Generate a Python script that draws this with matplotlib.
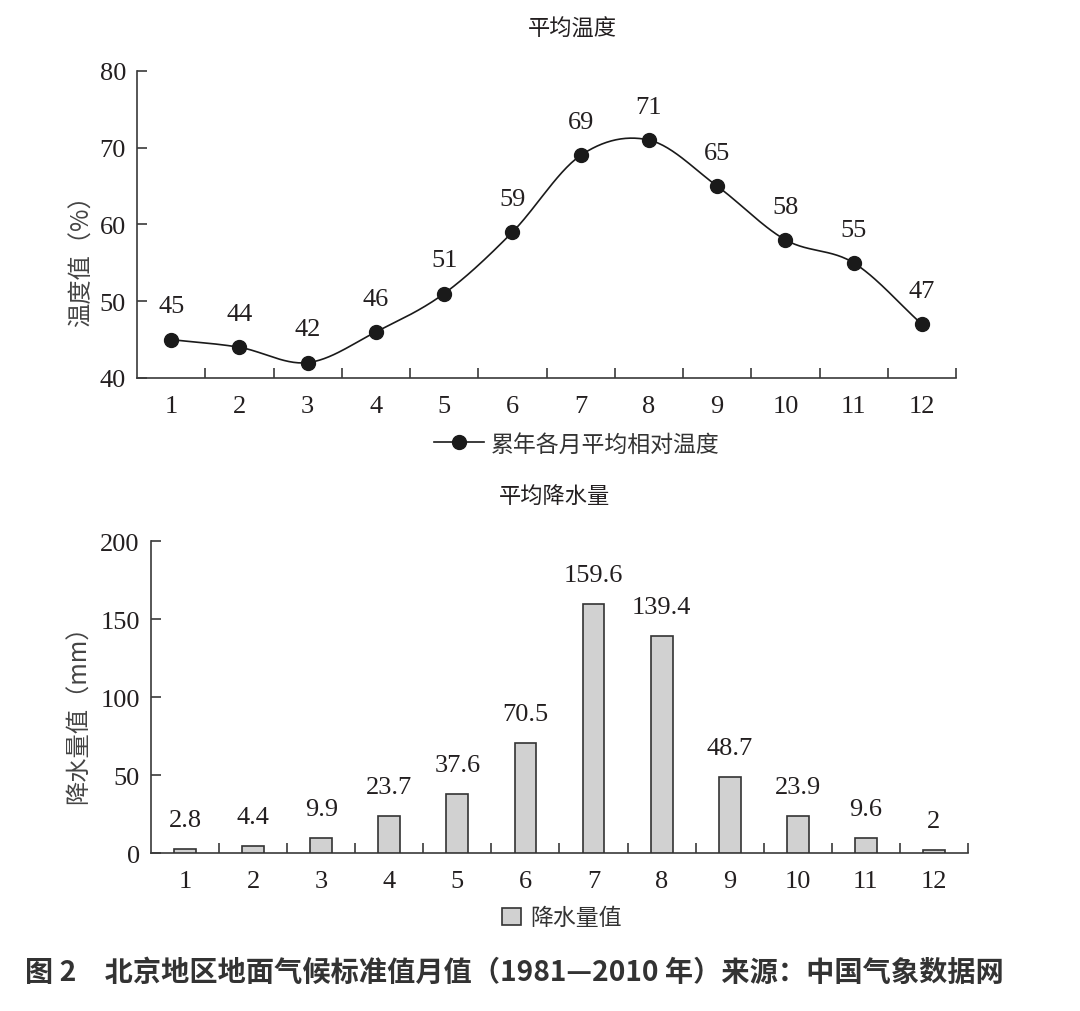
import numpy as np
import matplotlib
matplotlib.use("Agg")
import matplotlib.pyplot as plt
from matplotlib.lines import Line2D
from matplotlib.patches import Patch

months = [1, 2, 3, 4, 5, 6, 7, 8, 9, 10, 11, 12]
temp = [45, 44, 42, 46, 51, 59, 69, 71, 65, 58, 55, 47]
rain = [2.8, 4.4, 9.9, 23.7, 37.6, 70.5, 159.6, 139.4, 48.7, 23.9, 9.6, 2]
rain_labels = ["2.8", "4.4", "9.9", "23.7", "37.6", "70.5", "159.6", "139.4", "48.7", "23.9", "9.6", "2"]
temp_title = "平均温度"
rain_title = "平均降水量"
temp_ylabel = "温度值（%）"
rain_ylabel = "降水量值（mm）"
temp_legend = "累年各月平均相对温度"
rain_legend = "降水量值"
caption = "图 2　北京地区地面气候标准值月值（1981—2010 年）来源：中国气象数据网"

SERIF = ["Liberation Serif", "DejaVu Serif"]
CJK = ["Noto Sans CJK SC", "DejaVu Sans"]
TXT = "#231f20"
NUMSIZE = 19
plt.rcParams["font.family"] = CJK


def smooth(xs, ys, n=30):
    # Catmull-Rom style smoothing (like spreadsheet smoothed lines)
    xs = np.asarray(xs, float)
    ys = np.asarray(ys, float)
    px = np.concatenate([[2 * xs[0] - xs[1]], xs, [2 * xs[-1] - xs[-2]]])
    py = np.concatenate([[2 * ys[0] - ys[1]], ys, [2 * ys[-1] - ys[-2]]])
    outx, outy = [], []
    t = np.linspace(0, 1, n)
    for i in range(1, len(px) - 2):
        p0, p1, p2, p3 = [np.array([px[j], py[j]]) for j in (i - 1, i, i + 1, i + 2)]
        c1 = p1 + (p2 - p0) / 6
        c2 = p2 - (p3 - p1) / 6
        b = ((1 - t) ** 3)[:, None] * p1 + (3 * (1 - t) ** 2 * t)[:, None] * c1 \
            + (3 * (1 - t) * t ** 2)[:, None] * c2 + (t ** 3)[:, None] * p2
        outx.extend(b[:, 0])
        outy.extend(b[:, 1])
    return np.array(outx), np.array(outy)


fig = plt.figure(figsize=(10.8, 10.12), dpi=100)
fig.patch.set_facecolor("white")


def style_axes(ax, ymin, ymax, ystep):
    ax.set_xlim(0.5, 12.5)
    ax.set_ylim(ymin, ymax)
    ax.spines["top"].set_visible(False)
    ax.spines["right"].set_visible(False)
    for s in ("left", "bottom"):
        ax.spines[s].set_color("#3a3a3a")
        ax.spines[s].set_linewidth(1.2)
    ax.set_yticks(np.arange(ymin, ymax + ystep / 2, ystep))
    ax.set_xticks(months)
    ax.set_xticklabels([str(m) for m in months])
    ax.set_xticks(np.arange(1.5, 13, 1), minor=True)
    ax.tick_params(axis="x", which="major", length=0, pad=12)
    ax.tick_params(axis="x", which="minor", direction="in", length=7, width=1.2, color="#3a3a3a")
    ax.tick_params(axis="y", direction="in", length=7, width=1.2, color="#3a3a3a", pad=8)
    for lab in ax.get_xticklabels() + ax.get_yticklabels():
        lab.set_fontfamily(SERIF)
        lab.set_fontsize(NUMSIZE)
        lab.set_color(TXT)


# ---- top: temperature ----
ax1 = fig.add_axes([0.1269, 0.6255, 0.7583, 0.3034])
style_axes(ax1, 40, 80, 10)
sx, sy = smooth(months, temp)
ax1.plot(sx, sy, color="#1a1a1a", lw=1.2)
ax1.plot(months, temp, "o", color="#1a1a1a", ms=10, lw=0)
for m, v in zip(months, temp):
    ax1.annotate(str(v), (m, v), xytext=(0, 16), textcoords="offset points",
                 ha="center", va="bottom", fontfamily=SERIF, fontsize=NUMSIZE, color=TXT)
ax1.set_ylabel(temp_ylabel, fontsize=17.5, color="#444444")
ax1.yaxis.set_label_coords(-0.052, 0.404)
ax1.set_title(temp_title, fontsize=16, color=TXT, pad=26, x=0.531)
h1 = Line2D([], [], color="#1a1a1a", lw=1.2, marker="o", ms=10)
ax1.legend([h1], [temp_legend], loc="upper center", bbox_to_anchor=(0.537, -0.11),
           frameon=False, fontsize=16.5, handlelength=2.2, handletextpad=0.3,
           labelcolor="#333333")

# ---- bottom: rainfall ----
ax2 = fig.add_axes([0.1398, 0.1561, 0.7565, 0.3083])
style_axes(ax2, 0, 200, 50)
ax2.bar(months, rain, width=0.32, color="#d1d1d1", edgecolor="#333333", linewidth=1.2, zorder=3)
for m, v, l in zip(months, rain, rain_labels):
    ax2.annotate(l, (m, v), xytext=(0, 13), textcoords="offset points",
                 ha="center", va="bottom", fontfamily=SERIF, fontsize=NUMSIZE, color=TXT)
ax2.set_ylabel(rain_ylabel, fontsize=17.5, color="#444444")
ax2.yaxis.set_label_coords(-0.073, 0.465)
ax2.set_title(rain_title, fontsize=16, color=TXT, pad=28, x=0.494)
h2 = Patch(facecolor="#d1d1d1", edgecolor="#333333", linewidth=1.2)
ax2.legend([h2], [rain_legend], loc="upper center", bbox_to_anchor=(0.503, -0.105),
           frameon=False, fontsize=16.5, handlelength=0.8, handleheight=0.8,
           handletextpad=0.4, labelcolor="#333333")

fig.text(0.023, 0.039, caption, fontsize=20.3, fontweight="bold", color="#333333",
         ha="left", va="center")

fig.savefig("out.png", dpi=100, facecolor="white")
